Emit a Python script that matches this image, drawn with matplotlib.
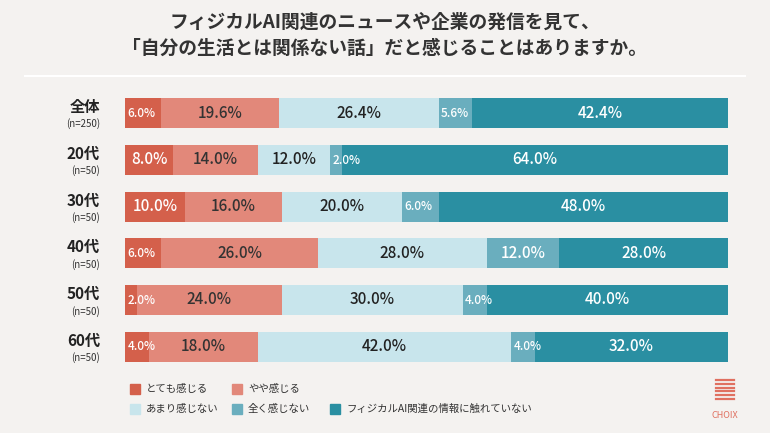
import matplotlib.pyplot as plt
import numpy as np

plt.rcParams['font.family'] = ['Noto Sans CJK JP', 'DejaVu Sans']

groups = ['全体', '20代', '30代', '40代', '50代', '60代']
counts = ['(n=250)', '(n=50)', '(n=50)', '(n=50)', '(n=50)', '(n=50)']
series = ['とても感じる', 'やや感じる', 'あまり感じない', '全く感じない', 'フィジカルAI関連の情報に触れていない']
values = np.array([
    [6.0, 19.6, 26.4, 5.6, 42.4],
    [8.0, 14.0, 12.0, 2.0, 64.0],
    [10.0, 16.0, 20.0, 6.0, 48.0],
    [6.0, 26.0, 28.0, 12.0, 28.0],
    [2.0, 24.0, 30.0, 4.0, 40.0],
    [4.0, 18.0, 42.0, 4.0, 32.0],
])
colors = ['#d4604b', '#e2887a', '#c8e5ec', '#6aaebe', '#2a8fa2']
txtcol = ['white', '#333333', '#222222', 'white', 'white']
bg = '#f4f2f0'

W, H = 770, 433
fig = plt.figure(figsize=(W / 100, H / 100), dpi=100, facecolor=bg)
ax = fig.add_axes([125 / W, 1 - 370 / H, (728 - 125) / W, (370 - 90) / H])
ax.set_facecolor(bg)

y = np.arange(len(groups))
for i in range(len(groups)):
    left = 0
    for j in range(len(series)):
        v = values[i, j]
        ax.barh(y[i], v, left=left, height=0.64, color=colors[j])
        if v < 7:
            ax.text(left + 0.4, y[i], f'{v:.1f}%', ha='left', va='center',
                    fontsize=8.5, color=txtcol[j], fontweight='medium')
        else:
            ax.text(left + v / 2, y[i], f'{v:.1f}%', ha='center', va='center',
                    fontsize=11, color=txtcol[j], fontweight='medium')
        left += v
ax.set_xlim(0, 100)
ax.set_ylim(len(groups) - 0.5, -0.5)
ax.axis('off')

for i in range(len(groups)):
    yy = 113 + i * 46.8
    fig.text(100 / W, 1 - (yy - 6) / H, groups[i], ha='right', va='center',
             fontsize=11, fontweight='bold', color='#222222')
    fig.text(100 / W, 1 - (yy + 11) / H, counts[i], ha='right', va='center',
             fontsize=7, color='#333333')

fig.text(0.5, 1 - 22 / H, 'フィジカルAI関連のニュースや企業の発信を見て、',
         ha='center', va='center', fontsize=13.5, fontweight='bold', color='#333333')
fig.text(0.5, 1 - 48 / H, '「自分の生活とは関係ない話」だと感じることはありますか。',
         ha='center', va='center', fontsize=13.5, fontweight='bold', color='#333333')
fig.add_artist(plt.Line2D([25 / W, 745 / W], [1 - 76 / H] * 2, color='white', lw=1.5))

leg_pos = [(130, 389), (232, 389), (130, 409), (232, 409), (330, 409)]
for (lx, ly), c, s in zip(leg_pos, colors, series):
    fig.patches.append(plt.Rectangle((lx / W, 1 - (ly + 5) / H), 10 / W, 10 / H,
                                     transform=fig.transFigure, color=c))
    fig.text((lx + 16) / W, 1 - ly / H, s, ha='left', va='center', fontsize=7.5, color='#333333')

fig.text(725 / W, 1 - 415 / H, 'CHOIX', ha='center', va='center', fontsize=6.5, color='#e07060')
for k in range(6):
    yy = 380 + k * 3.8
    fig.add_artist(plt.Line2D([716 / W, 734 / W], [1 - yy / H] * 2, color='#e07060', lw=1.6))

fig.savefig('out.png', dpi=100, facecolor=bg)
